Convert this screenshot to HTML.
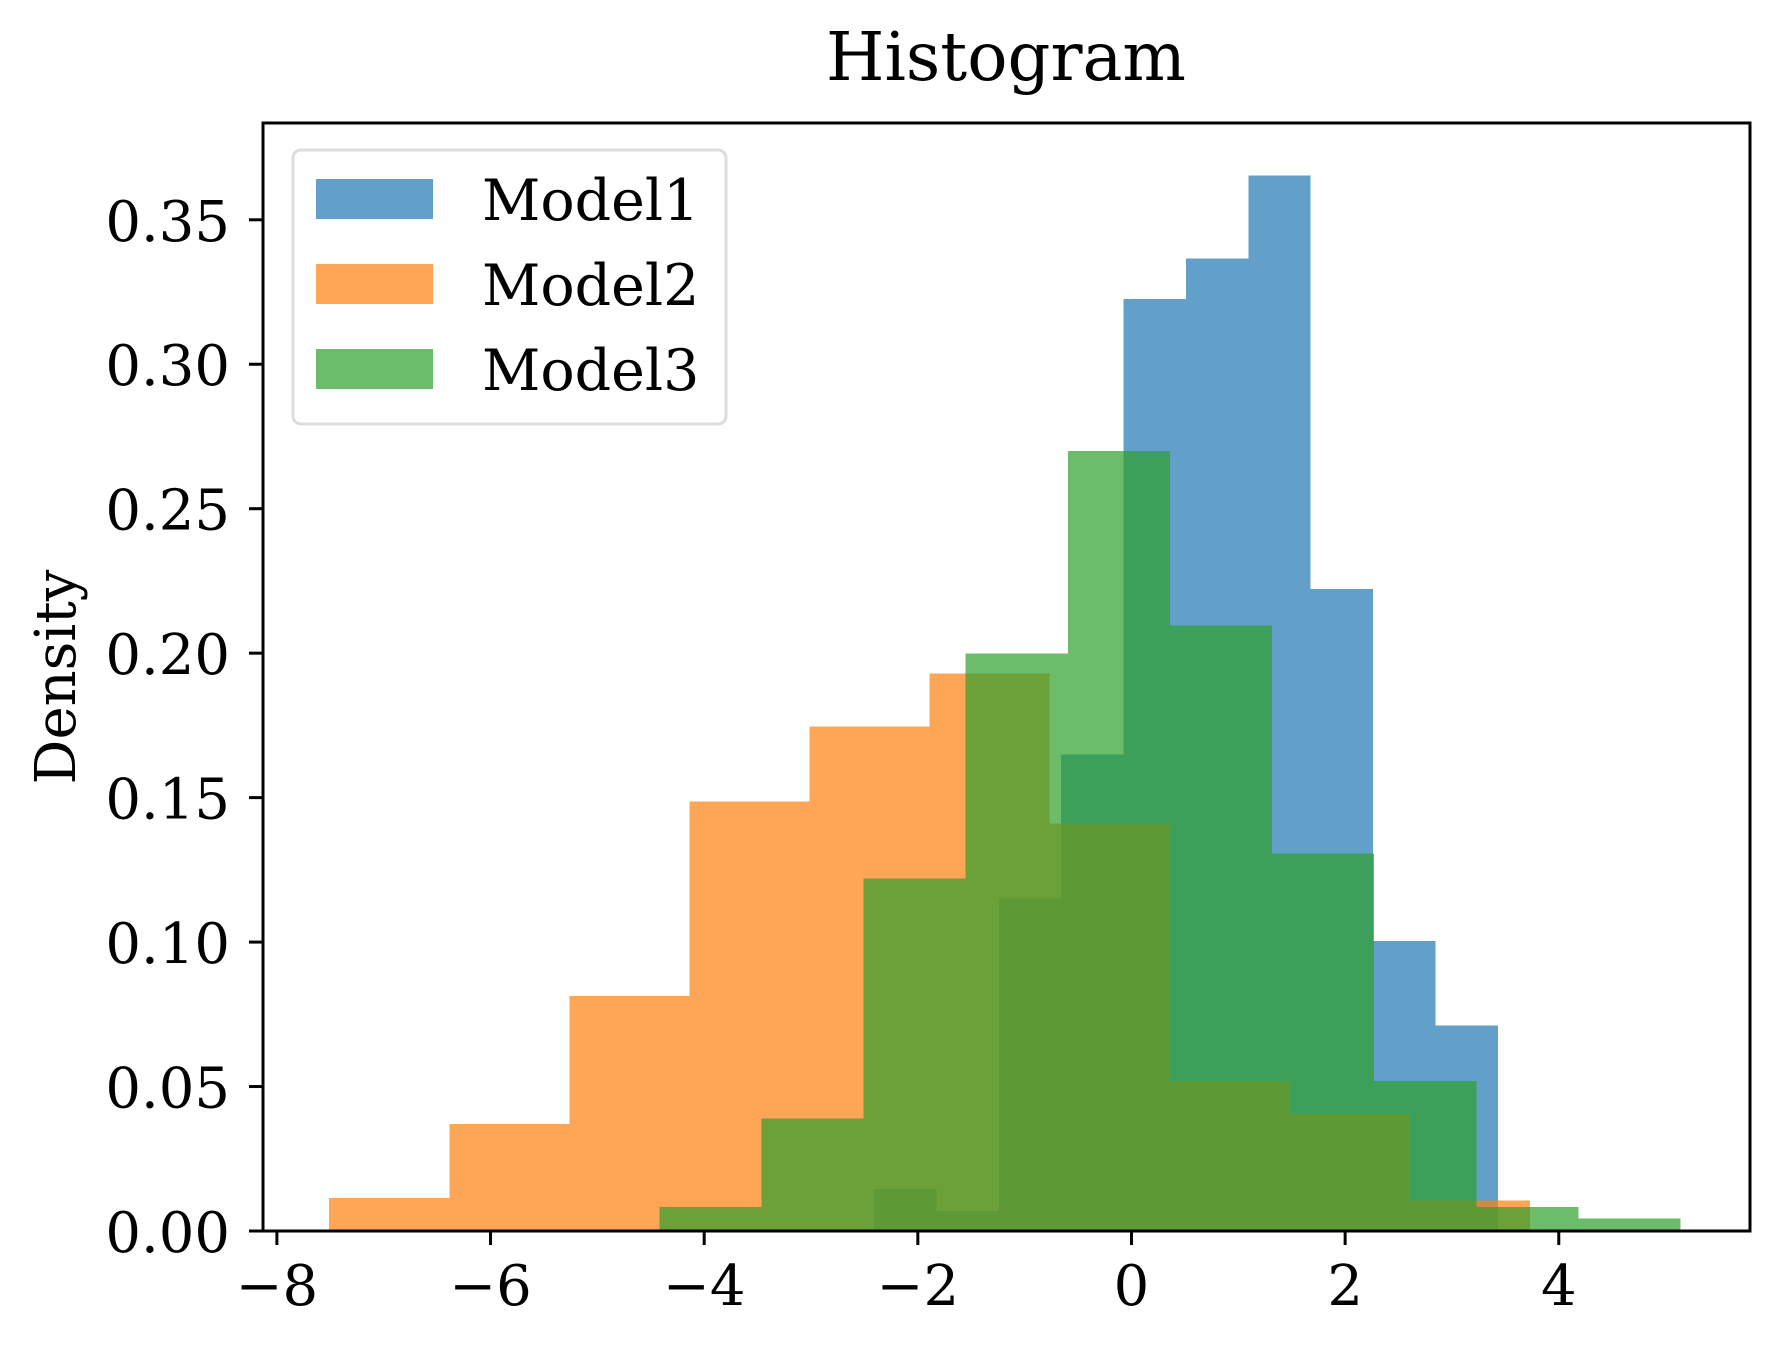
<!DOCTYPE html>
<html><head><meta charset="utf-8"><style>
html,body{margin:0;padding:0;background:#fff;}
svg{display:block;font-family:"DejaVu Serif","Liberation Serif",serif;}
</style></head><body>
<svg id="chart" width="1779" height="1346" viewBox="0 0 1779 1346" xmlns="http://www.w3.org/2000/svg">
<rect width="1779" height="1346" fill="#fff"/>
<g id="bars" shape-rendering="crispEdges"></g>
<g id="axes"></g>
<text x="1006" y="80" font-size="67" text-anchor="middle">Histogram</text>
<text transform="translate(75,677) rotate(-90)" font-size="56" text-anchor="middle">Density</text>
<g>
<rect x="293" y="150" width="433" height="274" rx="8" fill="#fff" fill-opacity="0.8" stroke="#ddd" stroke-width="3"/>
<rect x="316" y="179" width="117" height="40" fill="#1f77b4" fill-opacity="0.7"/>
<text x="482" y="220" font-size="57">Model1</text>
<rect x="316" y="264" width="117" height="40" fill="#ff7f0e" fill-opacity="0.7"/>
<text x="482" y="305" font-size="57">Model2</text>
<rect x="316" y="349" width="117" height="40" fill="#2ca02c" fill-opacity="0.7"/>
<text x="482" y="390" font-size="57">Model3</text>
</g>
</svg>
<script>
const model1Start = -2.41, model1Width = 0.584;
const model1Values = [0.0145, 0.007, 0.115, 0.165, 0.3225, 0.3366, 0.3653, 0.2222, 0.1003, 0.0712];
const model2Start = -7.51, model2Width = 1.124;
const model2Values = [0.0114, 0.037, 0.0814, 0.1486, 0.1746, 0.193, 0.141, 0.052, 0.0405, 0.0106];
const model3Start = -4.42, model3Width = 0.956;
const model3Values = [0.0083, 0.039, 0.122, 0.1998, 0.270, 0.2096, 0.1306, 0.052, 0.0083, 0.0043];
const xTicks = [-8, -6, -4, -2, 0, 2, 4];
const xTickLabels = ["\u22128", "\u22126", "\u22124", "\u22122", "0", "2", "4"];
const yTicks = [0, 0.05, 0.10, 0.15, 0.20, 0.25, 0.30, 0.35];
const yTickLabels = ["0.00", "0.05", "0.10", "0.15", "0.20", "0.25", "0.30", "0.35"];

const L = 263, R = 1750, T = 123, B = 1231;
const xMin = -8.13, xMax = 5.79, yMin = 0, yMax = 0.3835;
const X = v => L + (v - xMin) / (xMax - xMin) * (R - L);
const Y = v => B - (v - yMin) / (yMax - yMin) * (B - T);
const NS = "http://www.w3.org/2000/svg";
const bars = document.getElementById('bars');
const axes = document.getElementById('axes');

function drawSeries(name, start, width, values, color) {
  values.forEach((v, i) => {
    const r = document.createElementNS(NS, 'rect');
    const x0 = X(start + i * width), x1 = X(start + (i + 1) * width);
    r.setAttribute('x', x0); r.setAttribute('width', x1 - x0);
    r.setAttribute('y', Y(v)); r.setAttribute('height', Y(0) - Y(v));
    r.setAttribute('fill', color); r.setAttribute('fill-opacity', 0.7);
    
    
    bars.appendChild(r);
  });
}
drawSeries('model1', model1Start, model1Width, model1Values, '#1f77b4');
drawSeries('model2', model2Start, model2Width, model2Values, '#ff7f0e');
drawSeries('model3', model3Start, model3Width, model3Values, '#2ca02c');

const frame = document.createElementNS(NS, 'rect');
frame.setAttribute('x', L); frame.setAttribute('y', T);
frame.setAttribute('width', R - L); frame.setAttribute('height', B - T);
frame.setAttribute('fill', 'none'); frame.setAttribute('stroke', '#000'); frame.setAttribute('stroke-width', 3);


axes.appendChild(frame);

xTicks.forEach((t, i) => {
  const l = document.createElementNS(NS, 'line');
  l.setAttribute('x1', X(t)); l.setAttribute('x2', X(t));
  l.setAttribute('y1', B); l.setAttribute('y2', B + 14);
  l.setAttribute('stroke', '#000'); l.setAttribute('stroke-width', 3);
  
  
  axes.appendChild(l);
  const tx = document.createElementNS(NS, 'text');
  tx.setAttribute('x', X(t)); tx.setAttribute('y', 1305);
  tx.setAttribute('font-size', 56); tx.setAttribute('text-anchor', 'middle');
  tx.textContent = xTickLabels[i];
  
  
  axes.appendChild(tx);
});
yTicks.forEach((t, i) => {
  const l = document.createElementNS(NS, 'line');
  l.setAttribute('x1', L - 14); l.setAttribute('x2', L);
  l.setAttribute('y1', Y(t)); l.setAttribute('y2', Y(t));
  l.setAttribute('stroke', '#000'); l.setAttribute('stroke-width', 3);
  
  
  axes.appendChild(l);
  const tx = document.createElementNS(NS, 'text');
  tx.setAttribute('x', 230); tx.setAttribute('y', Y(t) + 21);
  tx.setAttribute('font-size', 56); tx.setAttribute('text-anchor', 'end');
  tx.textContent = yTickLabels[i];
  
  
  axes.appendChild(tx);
});
</script>
</body></html>
